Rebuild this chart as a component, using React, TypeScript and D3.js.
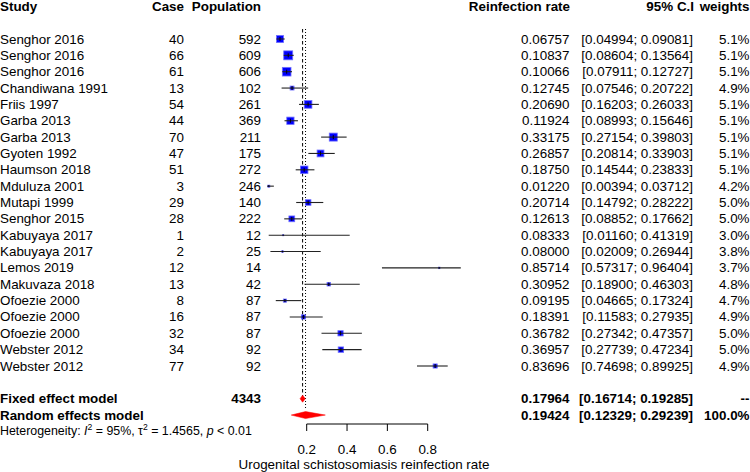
import React from "react";
import * as d3 from "d3";

const studies = ["Senghor 2016","Senghor 2016","Senghor 2016","Chandiwana 1991","Friis 1997","Garba 2013","Garba 2013","Gyoten 1992","Haumson 2018","Mduluza 2001","Mutapi 1999","Senghor 2015","Kabuyaya 2017","Kabuyaya 2017","Lemos 2019","Makuvaza 2018","Ofoezie 2000","Ofoezie 2000","Ofoezie 2000","Webster 2012","Webster 2012"];
const cases = [40,66,61,13,54,44,70,47,51,3,29,28,1,2,12,13,8,16,32,34,77];
const populations = [592,609,606,102,261,369,211,175,272,246,140,222,12,25,14,42,87,87,87,92,92];
const rates = [0.06757,0.10837,0.10066,0.12745,0.20690,0.11924,0.33175,0.26857,0.18750,0.01220,0.20714,0.12613,0.08333,0.08000,0.85714,0.30952,0.09195,0.18391,0.36782,0.36957,0.83696];
const lowers = [0.04994,0.08604,0.07911,0.07546,0.16203,0.08993,0.27154,0.20814,0.14544,0.00394,0.14792,0.08852,0.01160,0.02009,0.57317,0.18900,0.04665,0.11583,0.27342,0.27739,0.74698];
const uppers = [0.09081,0.13564,0.12727,0.20722,0.26033,0.15646,0.39803,0.33903,0.23833,0.03712,0.28222,0.17662,0.41319,0.26944,0.96404,0.46303,0.17324,0.27935,0.47357,0.47234,0.89925];
const weights = [5.1,5.1,5.1,4.9,5.1,5.1,5.1,5.1,5.1,4.2,5.0,5.0,3.0,3.8,3.7,4.8,4.7,4.9,5.0,5.0,4.9];

const fixedEst = [0.17964, 0.16714, 0.19285];
const randomEst = [0.19424, 0.12329, 0.29239];
const totalPop = 4343;
const xTicks = [0.2, 0.4, 0.6, 0.8];

const FONT = "'Liberation Sans', Arial, Helvetica, sans-serif";
const FS = 13.4;

export default function App() {
  const x = d3.scaleLinear().domain([0.2, 0.8]).range([306.7, 427.7]);
  const y = d3.scaleLinear().domain([0, 20]).range([39, 366]);
  const f5 = d3.format(".5f");
  const f1 = d3.format(".1f");
  const sq = (i: number) => {
    const p = cases[i] / populations[i];
    return 1.17 * Math.sqrt(populations[i] * p * (1 - p));
  };
  const yFixed = y(22);
  const yRandom = y(23);
  const yHet = y(24);
  const yHead = y(-2);
  const axisY = 424;

  const diamond = (est: number[], cy: number, h: number) =>
    `M${x(est[1])},${cy} L${x(est[0])},${cy - h} L${x(est[2])},${cy} L${x(est[0])},${cy + h} Z`;

  const txt = (props: any, s: string | number, bold = false) => (
    <text fontFamily={FONT} fontSize={FS} dominantBaseline="central" fontWeight={bold ? "bold" : "normal"} {...props}>{s}</text>
  );

  return (
    <svg width={750} height={472} style={{ position: "absolute", left: 0, top: 0, background: "#fff" }}>
      {txt({ x: 0, y: yHead }, "Study", true)}
      {txt({ x: 184, y: yHead, textAnchor: "end" }, "Case", true)}
      {txt({ x: 261, y: yHead, textAnchor: "end" }, "Population", true)}
      {txt({ x: 570, y: yHead, textAnchor: "end" }, "Reinfection rate", true)}
      {txt({ x: 694, y: yHead, textAnchor: "end" }, "95% C.I", true)}
      {txt({ x: 749.5, y: yHead, textAnchor: "end" }, "weights", true)}

      <line x1={x(fixedEst[0])} x2={x(fixedEst[0])} y1={29} y2={396} stroke="#000" strokeWidth={1} strokeDasharray="3.5,2.5" />
      <line x1={x(randomEst[0])} x2={x(randomEst[0])} y1={29} y2={408} stroke="#000" strokeWidth={1} strokeDasharray="1,2" />

      {studies.map((s, i) => {
        const cy = y(i);
        const side = sq(i);
        return (
          <g key={i}>
            {txt({ x: 0, y: cy }, s)}
            {txt({ x: 184, y: cy, textAnchor: "end" }, cases[i])}
            {txt({ x: 261, y: cy, textAnchor: "end" }, populations[i])}
            {txt({ x: 569.5, y: cy, textAnchor: "end" }, f5(rates[i]))}
            {txt({ x: 693, y: cy, textAnchor: "end" }, `[${f5(lowers[i])}; ${f5(uppers[i])}]`)}
            {txt({ x: 749.5, y: cy, textAnchor: "end" }, `${f1(weights[i])}%`)}
            <rect x={x(rates[i]) - side / 2} y={cy - side / 2} width={side} height={side} fill="#0000ff" stroke="#6f6fff" strokeWidth={0.8} />
            <line x1={x(lowers[i])} x2={x(uppers[i])} y1={cy} y2={cy} stroke="#222" strokeWidth={1.1} />
            <line x1={x(rates[i])} x2={x(rates[i])} y1={cy - Math.min(side / 2, 2)} y2={cy + Math.min(side / 2, 2)} stroke="#001" strokeWidth={1} />
          </g>
        );
      })}

      {txt({ x: 0, y: yFixed }, "Fixed effect model", true)}
      {txt({ x: 261, y: yFixed, textAnchor: "end" }, totalPop, true)}
      {txt({ x: 569.5, y: yFixed, textAnchor: "end" }, f5(fixedEst[0]), true)}
      {txt({ x: 693, y: yFixed, textAnchor: "end" }, `[${f5(fixedEst[1])}; ${f5(fixedEst[2])}]`, true)}
      {txt({ x: 749.5, y: yFixed, textAnchor: "end" }, "--", true)}
      <path d={diamond(fixedEst, yFixed, 3.5)} fill="#ff0000" stroke="#ff0000" strokeWidth={0.5} />

      {txt({ x: 0, y: yRandom }, "Random effects model", true)}
      {txt({ x: 569.5, y: yRandom, textAnchor: "end" }, f5(randomEst[0]), true)}
      {txt({ x: 693, y: yRandom, textAnchor: "end" }, `[${f5(randomEst[1])}; ${f5(randomEst[2])}]`, true)}
      {txt({ x: 749.5, y: yRandom, textAnchor: "end" }, "100.0%", true)}
      <path d={diamond(randomEst, yRandom, 3.5)} fill="#ff0000" stroke="#ff0000" strokeWidth={0.5} />

      <text x={0} y={yHet} fontFamily={FONT} fontSize={12.4} dominantBaseline="central">
        <tspan>Heterogeneity: </tspan>
        <tspan fontStyle="italic">I</tspan>
        <tspan fontSize={8.6} dy={-4.5}>2</tspan>
        <tspan dy={4.5}> = 95%, τ</tspan>
        <tspan fontSize={8.6} dy={-4.5}>2</tspan>
        <tspan dy={4.5}> = 1.4565, </tspan>
        <tspan fontStyle="italic">p</tspan>
        <tspan> &lt; 0.01</tspan>
      </text>

      <line x1={x(0.2)} x2={x(0.8)} y1={axisY} y2={axisY} stroke="#000" strokeWidth={1} />
      {xTicks.map((t) => (
        <g key={t}>
          <line x1={x(t)} x2={x(t)} y1={axisY} y2={axisY + 7} stroke="#000" strokeWidth={1} />
          {txt({ x: x(t), y: 449, textAnchor: "middle" }, d3.format(".1f")(t))}
        </g>
      ))}
      {txt({ x: 364, y: 464.5, textAnchor: "middle" }, "Urogenital schistosomiasis reinfection rate")}
    </svg>
  );
}
